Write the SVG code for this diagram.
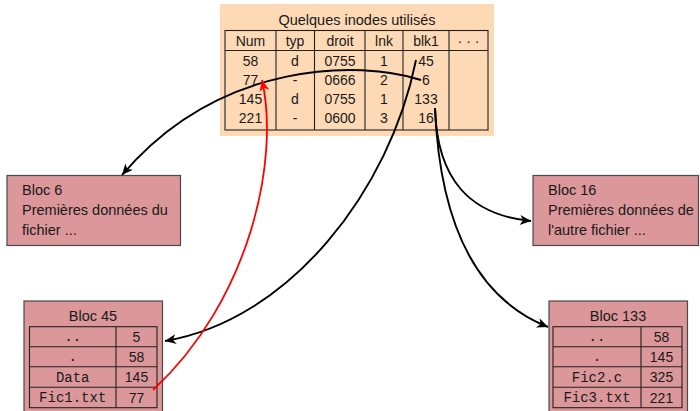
<svg xmlns="http://www.w3.org/2000/svg" width="700" height="411" viewBox="0 0 700 411">
<style>
.sans{font-family:"Liberation Sans","DejaVu Sans",sans-serif;fill:#1a1a1a}
.mono{font-family:"Liberation Mono","DejaVu Sans Mono",monospace;fill:#1a1a1a}
.t13{font-size:14px}
.t14{font-size:14.5px}
.tm{font-size:14px}
.mid{text-anchor:middle}
.blk{fill:#DB9799;stroke:#4a4a4a;stroke-width:1.2}
.grid{fill:none;stroke:#222;stroke-width:1.1}
.conn{fill:none;stroke:#000;stroke-width:1.9}
.red{fill:none;stroke:#ff0000;stroke-width:1.8}
</style>
<defs>
<marker id="ah" viewBox="-12 -6 13 12" refX="0" refY="0" markerWidth="13" markerHeight="12" markerUnits="userSpaceOnUse" orient="auto">
<path d="M0,0 L-11,-5 L-8,0 L-11,5 Z" fill="#000"/>
</marker>
<marker id="ahr" viewBox="-12 -6 13 12" refX="0" refY="0" markerWidth="13" markerHeight="12" markerUnits="userSpaceOnUse" orient="auto">
<path d="M0,0 L-11,-5 L-8,0 L-11,5 Z" fill="#ff0000"/>
</marker>
</defs>

<g id="inodes">
<rect x="220" y="4" width="274" height="132" fill="#FDD9B5"/>
<text class="sans mid" style="font-size:14.5px" x="357" y="24.5">Quelques inodes utilisés</text>
<rect class="grid" x="225" y="30.5" width="263" height="99.5"/>
<line class="grid" x1="225" y1="50.5" x2="488" y2="50.5"/>
<line class="grid" x1="276" y1="30.5" x2="276" y2="130"/>
<line class="grid" x1="314.5" y1="30.5" x2="314.5" y2="130"/>
<line class="grid" x1="365" y1="30.5" x2="365" y2="130"/>
<line class="grid" x1="403" y1="30.5" x2="403" y2="130"/>
<line class="grid" x1="449" y1="30.5" x2="449" y2="130"/>
<g class="sans t13 mid">
<text x="250.5" y="45.5">Num</text><text x="295" y="45.5">typ</text><text x="340" y="45.5">droit</text><text x="384" y="45.5">lnk</text><text x="426" y="45.5">blk1</text><text x="468.5" y="45.5">· · ·</text>
<text x="250.5" y="66">58</text><text x="295" y="66">d</text><text x="340" y="66">0755</text><text x="384" y="66">1</text><text x="426" y="66">45</text>
<text x="250.5" y="85">77</text><text x="295" y="85">-</text><text x="340" y="85">0666</text><text x="384" y="85">2</text><text x="426" y="85">6</text>
<text x="250.5" y="104">145</text><text x="295" y="104">d</text><text x="340" y="104">0755</text><text x="384" y="104">1</text><text x="426" y="104">133</text>
<text x="250.5" y="123">221</text><text x="295" y="123">-</text><text x="340" y="123">0600</text><text x="384" y="123">3</text><text x="426" y="123">16</text>
</g>
</g>

<g id="bloc6">
<rect class="blk" x="7" y="175.5" width="173.5" height="70"/>
<text class="sans t14" x="22" y="195">Bloc 6</text>
<text class="sans t14" x="22" y="215">Premières données du</text>
<text class="sans t14" x="22" y="235">fichier ...</text>
</g>

<g id="bloc16">
<rect class="blk" x="533" y="175.5" width="165.5" height="70"/>
<text class="sans t14" x="548" y="195">Bloc 16</text>
<text class="sans t14" x="548" y="215">Premières données de</text>
<text class="sans t14" x="548" y="235">l'autre fichier ...</text>
</g>

<g id="bloc45">
<rect class="blk" x="24" y="301" width="138.5" height="116"/>
<text class="sans t14 mid" x="93" y="321">Bloc 45</text>
<rect class="grid" x="29.5" y="326.7" width="127.5" height="81"/>
<line class="grid" x1="29.5" y1="346.7" x2="157" y2="346.7"/>
<line class="grid" x1="29.5" y1="366.7" x2="157" y2="366.7"/>
<line class="grid" x1="29.5" y1="387.3" x2="157" y2="387.3"/>
<line class="grid" x1="116" y1="326.7" x2="116" y2="407.7"/>
<g class="mid">
<text class="mono tm" x="72.7" y="341">..</text><text class="sans t13" x="136.5" y="341.5">5</text>
<text class="mono tm" x="72.7" y="361">.</text><text class="sans t13" x="136.5" y="361.5">58</text>
<text class="mono tm" x="72.7" y="381.5">Data</text><text class="sans t13" x="136.5" y="382">145</text>
<text class="mono tm" x="72.7" y="402">Fic1.txt</text><text class="sans t13" x="136.5" y="402.5">77</text>
</g>
</g>

<g id="bloc133">
<rect class="blk" x="549" y="301" width="138.5" height="116"/>
<text class="sans t14 mid" x="618" y="321">Bloc 133</text>
<rect class="grid" x="553" y="326.7" width="129" height="81"/>
<line class="grid" x1="553" y1="346.7" x2="682" y2="346.7"/>
<line class="grid" x1="553" y1="366.7" x2="682" y2="366.7"/>
<line class="grid" x1="553" y1="387.3" x2="682" y2="387.3"/>
<line class="grid" x1="641" y1="326.7" x2="641" y2="407.7"/>
<g class="mid">
<text class="mono tm" x="597" y="341">..</text><text class="sans t13" x="661.5" y="341.5">58</text>
<text class="mono tm" x="597" y="361">.</text><text class="sans t13" x="661.5" y="361.5">145</text>
<text class="mono tm" x="597" y="381.5">Fic2.c</text><text class="sans t13" x="661.5" y="382">325</text>
<text class="mono tm" x="597" y="402">Fic3.txt</text><text class="sans t13" x="661.5" y="402.5">221</text>
</g>
</g>

<g id="connectors">
<path class="conn" d="M421,80 C360,60 220,60 122,175" marker-end="url(#ah)"/>
<path class="conn" d="M416,60 C390,190 290,320 165,341" marker-end="url(#ah)"/>
<path class="conn" d="M435,108 C437,180 470,215 531,221" marker-end="url(#ah)"/>
<path class="conn" d="M435,108 C440,230 480,300 548,327" marker-end="url(#ah)"/>
<path class="red" d="M153,390 C250,300 280,160 262,80" marker-end="url(#ahr)"/>
</g>
</svg>
